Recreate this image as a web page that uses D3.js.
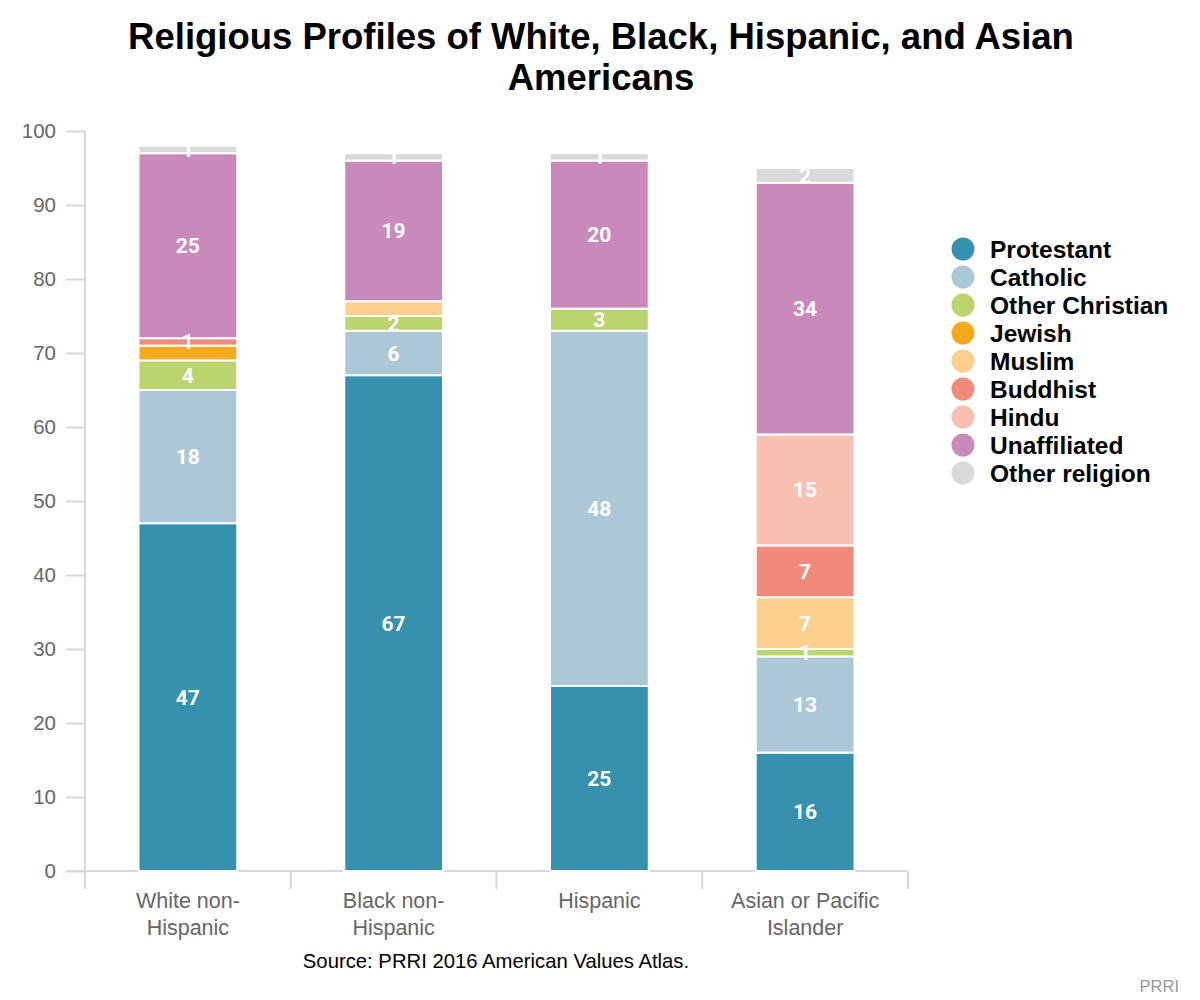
<!DOCTYPE html>
<html>
<head>
<meta charset="utf-8">
<script src="https://cdn.jsdelivr.net/npm/d3@7"></script>
<style>
  body { margin: 0; background: #fff; font-family: "Liberation Sans", Arial, sans-serif; }
  svg text { font-family: "Liberation Sans", Arial, sans-serif; }
  .axis text { fill: #666; font-size: 20.5px; }
  .axis path, .axis line { stroke: #d8d8d8; stroke-width: 2; }
</style>
</head>
<body>
<svg id="chart"></svg>
<script>
// Data
const groups = ['White non-Hispanic', 'Black non-Hispanic', 'Hispanic', 'Asian or Pacific Islander'];
const groupLines = [['White non-', 'Hispanic'], ['Black non-', 'Hispanic'], ['Hispanic'], ['Asian or Pacific', 'Islander']];
const religions = ['Protestant', 'Catholic', 'Other Christian', 'Jewish', 'Muslim', 'Buddhist', 'Hindu', 'Unaffiliated', 'Other religion'];
const colors = ['#3591ae', '#acc8d6', '#bbd46e', '#f5a91d', '#fbd08f', '#f18a78', '#f9bfb1', '#c989bb', '#d9d9da'];

// values per religion, one per group
const protestant     = [47, 67, 25, 16];
const catholic       = [18, 6, 48, 13];
const otherChristian = [4, 2, 3, 1];
const jewish         = [2, 0, 0, 0];
const muslim         = [0, 2, 0, 7];
const buddhist       = [1, 0, 0, 7];
const hindu          = [0, 0, 0, 15];
const unaffiliated   = [25, 19, 20, 34];
const otherReligion  = [1, 1, 1, 2];

// labels the original chart hides because they collide with a neighbour
const hiddenLabels = ['White non-Hispanic|Jewish', 'Black non-Hispanic|Muslim'];

const yTicks = [0, 10, 20, 30, 40, 50, 60, 70, 80, 90, 100];

const seriesValues = [protestant, catholic, otherChristian, jewish, muslim, buddhist, hindu, unaffiliated, otherReligion];

class StackedChart {
  constructor(_config) {
    this.config = {
      parentElement: _config.parentElement,
      containerWidth: _config.containerWidth || 1200,
      containerHeight: _config.containerHeight || 1000,
      margin: _config.margin || {top: 131, right: 292, bottom: 129, left: 85}
    };
    this.initVis();
  }

  initVis() {
    let vis = this;
    vis.width = vis.config.containerWidth - vis.config.margin.left - vis.config.margin.right;
    vis.height = vis.config.containerHeight - vis.config.margin.top - vis.config.margin.bottom;

    vis.svg = d3.select(vis.config.parentElement)
        .attr('width', vis.config.containerWidth)
        .attr('height', vis.config.containerHeight);

    vis.chart = vis.svg.append('g')
        .attr('transform', `translate(${vis.config.margin.left},${vis.config.margin.top})`);

    vis.xScale = d3.scaleBand().domain(groups).range([0, vis.width]).paddingInner(0.52).paddingOuter(0.26);
    vis.xBand = d3.scaleBand().domain(groups).range([0, vis.width]);
    vis.yScale = d3.scaleLinear().domain([0, 100]).range([vis.height, 0]);

    // Title
    const title = vis.svg.append('text')
        .attr('x', 600).attr('text-anchor', 'middle')
        .style('font-size', '36.5px').style('font-weight', 'bold').style('fill', '#000');
    title.append('tspan').attr('x', 601).attr('y', 49).text('Religious Profiles of White, Black, Hispanic, and Asian');
    title.append('tspan').attr('x', 601).attr('y', 90).text('Americans');

    vis.renderVis();
  }

  renderVis() {
    let vis = this;

    // stack data
    const rows = groups.map((g, i) => {
      const row = {group: g};
      religions.forEach((r, j) => row[r] = seriesValues[j][i]);
      return row;
    });
    const stack = d3.stack().keys(religions)(rows);

    // y axis
    const yAxis = d3.axisLeft(vis.yScale).tickValues(yTicks).tickSize(19).tickSizeOuter(0).tickPadding(10);
    const yAxisG = vis.chart.append('g').attr('class', 'axis y-axis').call(yAxis);
    yAxisG.select('.domain').attr('d', `M0,${vis.height}V${vis.yScale(100)}`);

    // x axis: line through zero, ticks between categories
    const xAxisG = vis.chart.append('g').attr('class', 'axis x-axis')
        .attr('transform', `translate(0,${vis.height})`);
    xAxisG.append('line').attr('x1', -19).attr('x2', vis.width).attr('y1', 0).attr('y2', 0);
    const bounds = groups.map(g => vis.xBand(g)).concat([vis.width]);
    xAxisG.selectAll('.sep').data(bounds).join('line').attr('class', 'sep')
        .attr('x1', d => d).attr('x2', d => d).attr('y1', 0).attr('y2', 18);
    xAxisG.selectAll('.cat').data(groups).join('text').attr('class', 'cat')
        .attr('text-anchor', 'middle')
        .style('font-size', '21.5px')
        .attr('transform', d => `translate(${vis.xBand(d) + vis.xBand.bandwidth() / 2},37)`)
        .each(function(d, i) {
          d3.select(this).selectAll('tspan').data(groupLines[i]).join('tspan')
              .attr('x', 0).attr('dy', (t, k) => k === 0 ? 0 : 27).text(t => t);
        });

    // bars
    const layers = vis.chart.selectAll('.layer').data(stack).join('g')
        .attr('class', 'layer').attr('fill', (d, i) => colors[i]);
    layers.selectAll('rect').data(d => d.map(p => ({p, key: d.key}))).join('rect')
        .filter(d => d.p[1] - d.p[0] > 0)
        .attr('x', d => vis.xScale(d.p.data.group))
        .attr('width', vis.xScale.bandwidth())
        .attr('y', d => vis.yScale(d.p[1]))
        .attr('height', d => vis.yScale(d.p[0]) - vis.yScale(d.p[1]))
        .attr('stroke', '#fff').attr('stroke-width', 2);

    // value labels
    const labelData = [];
    stack.forEach(layer => layer.forEach(p => {
      const v = p[1] - p[0];
      if (v > 0 && !hiddenLabels.includes(p.data.group + '|' + layer.key)) {
        labelData.push({group: p.data.group, v, mid: (p[0] + p[1]) / 2});
      }
    }));
    vis.chart.selectAll('.val').data(labelData).join('text').attr('class', 'val')
        .attr('x', d => vis.xScale(d.group) + vis.xScale.bandwidth() / 2)
        .attr('y', d => vis.yScale(d.mid))
        .attr('dy', '0.36em')
        .attr('text-anchor', 'middle')
        .style('font-size', '21px').style('font-weight', 'bold').style('fill', '#fff')
        .style('font-family', 'Roboto, "Liberation Sans", sans-serif')
        .text(d => d.v);

    // legend
    const legend = vis.svg.append('g').attr('transform', 'translate(963,249)');
    const items = legend.selectAll('g').data(religions).join('g')
        .attr('transform', (d, i) => `translate(0,${i * 28})`);
    items.append('circle').attr('r', 11.5).attr('fill', (d, i) => colors[i]);
    items.append('text').attr('x', 27).attr('dy', '0.35em')
        .style('font-size', '24.5px').style('font-weight', 'bold').style('fill', '#000')
        .text(d => d);

    // source & credit
    vis.svg.append('text').attr('x', 496).attr('y', 968).attr('text-anchor', 'middle')
        .style('font-size', '20.3px').style('fill', '#000')
        .text('Source: PRRI 2016 American Values Atlas.');
    vis.svg.append('text').attr('x', 1179).attr('y', 992).attr('text-anchor', 'end')
        .style('font-size', '16.5px').style('fill', '#999')
        .text('PRRI');
  }
}

new StackedChart({parentElement: '#chart'});
</script>
</body>
</html>
